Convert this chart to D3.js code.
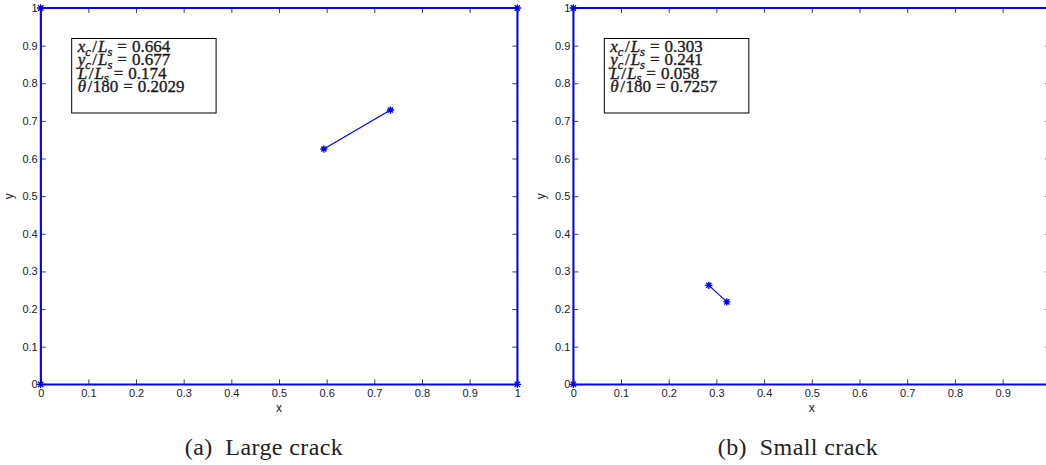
<!DOCTYPE html>
<html>
<head>
<meta charset="utf-8">
<script src="https://cdn.jsdelivr.net/npm/d3@7"></script>
<style>
  html, body { margin: 0; padding: 0; background: #fff; }
  svg { display: block; }
</style>
</head>
<body>
<svg id="chart" width="1046" height="465"></svg>
<script>
// Crack geometry for the two cases, in units of the plate side L_s
const caseNames = ["Large crack", "Small crack"];
const caseTags = ["(a)", "(b)"];
const crackXc = [0.664, 0.303];
const crackYc = [0.677, 0.241];
const crackLen = [0.174, 0.058];
const crackTheta = [0.2029, 0.7257]; // angle / 180

// Plate outline (unit square)
const plateX = [0, 1, 1, 0, 0];
const plateY = [0, 0, 1, 1, 0];

// Axis ticks and their labels
const tickValues = [0, 0.1, 0.2, 0.3, 0.4, 0.5, 0.6, 0.7, 0.8, 0.9, 1];
const tickLabels = ["0", "0.1", "0.2", "0.3", "0.4", "0.5", "0.6", "0.7", "0.8", "0.9", "1"];

const W = 1046;
const svg = d3.select("#chart");
const BLUE = "#0000ff";

// Panel frames (pixel placement of each axes box)
const frames = [
  { left: 40.7, width: 476.6, top: 8, height: 376.3, caption: 264 },
  { left: 573.3, width: 477, top: 8, height: 376.3, caption: 798 }
];

function asteriskPath(r) {
  const d = r * Math.SQRT1_2;
  return `M${-r},0L${r},0M0,${-r}L0,${r}M${-d},${-d}L${d},${d}M${-d},${d}L${d},${-d}`;
}

frames.forEach((f, i) => {
  const x = d3.scaleLinear().domain([0, 1]).range([f.left, f.left + f.width]);
  const y = d3.scaleLinear().domain([0, 1]).range([f.top + f.height, f.top]);
  const fmt = v => tickLabels[tickValues.indexOf(v)];
  // only ticks that land inside the drawing area
  const xTicks = tickValues.filter(v => x(v) <= W - 2);

  const g = svg.append("g");

  const styleAxis = sel => {
    sel.selectAll(".domain").attr("stroke", "#000").attr("stroke-width", 1);
    sel.selectAll(".tick line").attr("stroke", "#444");
    sel.selectAll(".tick text")
      .attr("fill", "#222")
      .attr("font-family", "'Liberation Sans', Arial, sans-serif")
      .attr("font-size", 11);
  };

  g.append("g").attr("transform", `translate(0,${y(0)})`)
    .call(d3.axisBottom(x).tickValues(xTicks).tickFormat(fmt).tickSize(-5).tickSizeOuter(0).tickPadding(5))
    .call(styleAxis);
  g.append("g").attr("transform", `translate(${x(0)},0)`)
    .call(d3.axisLeft(y).tickValues(tickValues).tickFormat(fmt).tickSize(-5).tickSizeOuter(0).tickPadding(3))
    .call(styleAxis);
  g.append("g").attr("transform", `translate(0,${y(1)})`)
    .call(d3.axisTop(x).tickValues(xTicks).tickFormat("").tickSize(-5).tickSizeOuter(0))
    .call(styleAxis);
  g.append("g").attr("transform", `translate(${x(1)},0)`)
    .call(d3.axisRight(y).tickValues(tickValues).tickFormat("").tickSize(-5).tickSizeOuter(0))
    .call(styleAxis);

  // Axis titles
  g.append("text")
    .attr("x", x(0.5)).attr("y", y(0) + 28)
    .attr("text-anchor", "middle")
    .attr("font-family", "'Liberation Sans', Arial, sans-serif")
    .attr("font-size", 12).attr("fill", "#222")
    .text("x");
  g.append("text")
    .attr("transform", `translate(${x(0) - 28},${y(0.5)}) rotate(-90)`)
    .attr("text-anchor", "middle")
    .attr("font-family", "'Liberation Sans', Arial, sans-serif")
    .attr("font-size", 12).attr("fill", "#222")
    .text("y");

  // Plate outline with corner markers
  const plate = plateX.map((v, k) => [v, plateY[k]]);
  const line = d3.line().x(d => x(d[0])).y(d => y(d[1]));
  g.append("path").datum(plate)
    .attr("d", line).attr("fill", "none")
    .attr("stroke", BLUE).attr("stroke-width", 1.8);
  g.selectAll(".corner").data(plate.slice(0, 4)).join("path")
    .attr("class", "corner")
    .attr("transform", d => `translate(${x(d[0])},${y(d[1])})`)
    .attr("d", asteriskPath(3.8))
    .attr("stroke", BLUE).attr("stroke-width", 1.3).attr("fill", "none");

  // Crack segment from centre, length and orientation
  const th = crackTheta[i] * Math.PI;
  const h = crackLen[i] / 2;
  const crack = [
    [crackXc[i] - h * Math.cos(th), crackYc[i] - h * Math.sin(th)],
    [crackXc[i] + h * Math.cos(th), crackYc[i] + h * Math.sin(th)]
  ];
  g.append("path").datum(crack)
    .attr("d", line).attr("fill", "none")
    .attr("stroke", BLUE).attr("stroke-width", 1.2);
  g.selectAll(".tip").data(crack).join("path")
    .attr("class", "tip")
    .attr("transform", d => `translate(${x(d[0])},${y(d[1])})`)
    .attr("d", asteriskPath(3.6))
    .attr("stroke", BLUE).attr("stroke-width", 1.4).attr("fill", "none");

  // Parameter box
  const bx0 = x(0.065), bx1 = x(0.368), by0 = y(0.919), by1 = y(0.721);
  g.append("rect")
    .attr("x", bx0).attr("y", by0)
    .attr("width", bx1 - bx0).attr("height", by1 - by0)
    .attr("fill", "#fff").attr("stroke", "#000").attr("stroke-width", 1);

  // each row: [text, kind, dx] — kind: i = italic symbol, sub = subscript, n = upright
  const rows = [
    [["x", "i"], ["c", "sub"], ["/", "n", 1.5], ["L", "i", 1], ["s", "sub"], ["=", "n", 5], [String(crackXc[i]), "n", 5]],
    [["y", "i"], ["c", "sub"], ["/", "n", 1.5], ["L", "i", 1], ["s", "sub"], ["=", "n", 5], [String(crackYc[i]), "n", 5]],
    [["L", "i"], ["/", "n", 1.5], ["L", "i", 1], ["s", "sub"], ["=", "n", 5], [String(crackLen[i]), "n", 5]],
    [["θ", "i"], ["/", "n", 1.5], ["180", "n", 0.5], ["=", "n", 5], [String(crackTheta[i]), "n", 5]]
  ];
  const rowY = [13.6, 27, 40.4, 53.8];
  rows.forEach((parts, r) => {
    const t = g.append("text")
      .attr("x", bx0 + 6).attr("y", by0 + rowY[r])
      .attr("font-family", "'Liberation Serif', 'Times New Roman', serif")
      .attr("font-size", 17).attr("fill", "#1a1a1a")
      .attr("stroke", "#1a1a1a").attr("stroke-width", 0.35);
    let lowered = false;
    parts.forEach(([s, kind, dx]) => {
      const ts = t.append("tspan").text(s);
      let shift = 0;
      if (kind === "sub") {
        ts.attr("font-style", "italic").attr("font-size", 12.5);
        if (!lowered) { shift = 3.5; lowered = true; }
      } else if (lowered) {
        shift = -3.5; lowered = false;
      }
      if (kind === "i") ts.attr("font-style", "italic");
      if (shift) ts.attr("dy", shift);
      if (dx) ts.attr("dx", dx);
    });
  });

  // Sub-figure caption
  svg.append("text")
    .attr("x", f.caption).attr("y", 455)
    .attr("text-anchor", "middle")
    .attr("font-family", "'Liberation Serif', 'Times New Roman', serif")
    .attr("font-size", 24).attr("letter-spacing", 0.4).attr("fill", "#222")
    .attr("xml:space", "preserve")
    .text(caseTags[i] + "  " + caseNames[i]);
});
</script>
</body>
</html>
